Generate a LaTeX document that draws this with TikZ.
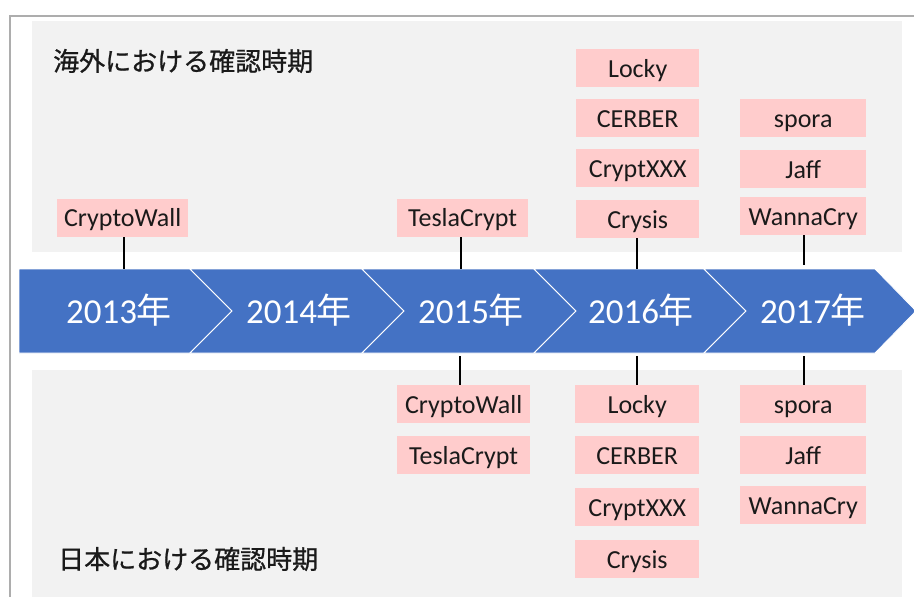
\documentclass[tikz,border=0pt]{standalone}
\usepackage{fontspec}
\setmainfont{Carlito}
\newfontfamily\jp{Noto Sans CJK JP}
\newfontfamily\jptitle{Noto Sans CJK JP}[FakeBold=0.8]
\definecolor{chevblue}{HTML}{4472C4}
\definecolor{boxpink}{HTML}{FFCCCC}
\definecolor{panelgray}{HTML}{F2F2F2}
\definecolor{framegray}{HTML}{ADADAD}
\definecolor{ink}{HTML}{1A1A1A}
\tikzset{
  panel/.style={fill=panelgray, draw=none},
  chev/.style={fill=chevblue, draw=white, line width=0.8pt, line join=miter},
  malbox/.style={fill=boxpink, draw=none, minimum height=38pt, inner sep=0pt, text height=19pt, text depth=1pt, text=ink, font=\fontsize{26}{26}\selectfont, anchor=north west},
  yearlbl/.style={text=white, font=\fontsize{35}{35}\selectfont, inner sep=0pt},
  ttl/.style={text=ink, font=\jptitle\fontsize{26}{26}\selectfont, inner sep=0pt, anchor=west},
  link/.style={draw=black, line width=2pt}
}
\begin{document}
\begin{tikzpicture}[x=1pt,y=-1pt]
\useasboundingbox (0,0) rectangle (914,597);
\fill[white] (0,0) rectangle (914,597);
% frame
\draw[framegray, line width=2pt] (10,597) -- (10,16) -- (914,16);
% panels
\fill[panelgray] (32,21) rectangle (902,252);
\fill[panelgray] (32,370) rectangle (902,597);
% titles
\node[ttl] (ttop) at (53,61) {海外における確認時期};
\node[ttl] (tbot) at (58,559) {日本における確認時期};
% chevrons
\path[chev] (19,269) -- (190,269) -- (232,311) -- (190,353) -- (19,353) -- cycle;
\path[chev] (190,269) -- (362,269) -- (404,311) -- (362,353) -- (190,353) -- (232,311) -- cycle;
\path[chev] (362,269) -- (534,269) -- (576,311) -- (534,353) -- (362,353) -- (404,311) -- cycle;
\path[chev] (534,269) -- (704,269) -- (746,311) -- (704,353) -- (534,353) -- (576,311) -- cycle;
\path[chev] (704,269) -- (875,269) -- (916,311) -- (875,353) -- (704,353) -- (746,311) -- cycle;
% year labels
\node[yearlbl] (y13) at (119,310) {2013{\jp 年}};
\node[yearlbl] (y14) at (299,310) {2014{\jp 年}};
\node[yearlbl] (y15) at (471,310) {2015{\jp 年}};
\node[yearlbl] (y16) at (641,310) {2016{\jp 年}};
\node[yearlbl] (y17) at (813,310) {2017{\jp 年}};
% bar anchor coordinates
\coordinate (t13) at (124,269);
\coordinate (t15) at (461,269);
\coordinate (t16) at (637,269);
\coordinate (t17) at (804,265);
\coordinate (b15) at (460,356);
\coordinate (b16) at (637,356);
\coordinate (b17) at (804,356);
% top boxes
\node[malbox, minimum width=131pt] (a13) at (57,237) [anchor=south west] {CryptoWall};
\node[malbox, minimum width=131pt] (a15) at (397,237) [anchor=south west] {TeslaCrypt};
\node[malbox, minimum width=123pt] (a16a) at (576,49) {Locky};
\node[malbox, minimum width=123pt] (a16b) at (576,99) {CERBER};
\node[malbox, minimum width=123pt] (a16c) at (576,149) {CryptXXX};
\node[malbox, minimum width=123pt] (a16d) at (576,200) {Crysis};
\node[malbox, minimum width=126pt] (a17a) at (740,99) {spora};
\node[malbox, minimum width=126pt] (a17b) at (740,150) {Jaff};
\node[malbox, minimum width=126pt] (a17c) at (740,197) {WannaCry};
% bottom boxes
\node[malbox, minimum width=133pt] (j15a) at (397,385) {CryptoWall};
\node[malbox, minimum width=133pt] (j15b) at (397,436) {TeslaCrypt};
\node[malbox, minimum width=124pt] (j16a) at (575,385) {Locky};
\node[malbox, minimum width=124pt] (j16b) at (575,436) {CERBER};
\node[malbox, minimum width=124pt] (j16c) at (575,488) {CryptXXX};
\node[malbox, minimum width=124pt] (j16d) at (575,540) {Crysis};
\node[malbox, minimum width=126pt] (j17a) at (740,385) {spora};
\node[malbox, minimum width=126pt] (j17b) at (740,436) {Jaff};
\node[malbox, minimum width=126pt] (j17c) at (740,486) {WannaCry};
% connectors
\draw[link] (a13.south -| t13) -- (t13);
\draw[link] (a15.south -| t15) -- (t15);
\draw[link] (a16d.south -| t16) -- (t16);
\draw[link] (a17c.south -| t17) -- (t17);
\draw[link] (b15) -- (b15 |- j15a.north);
\draw[link] (b16) -- (b16 |- j16a.north);
\draw[link] (b17) -- (b17 |- j17a.north);
\end{tikzpicture}
\end{document}
